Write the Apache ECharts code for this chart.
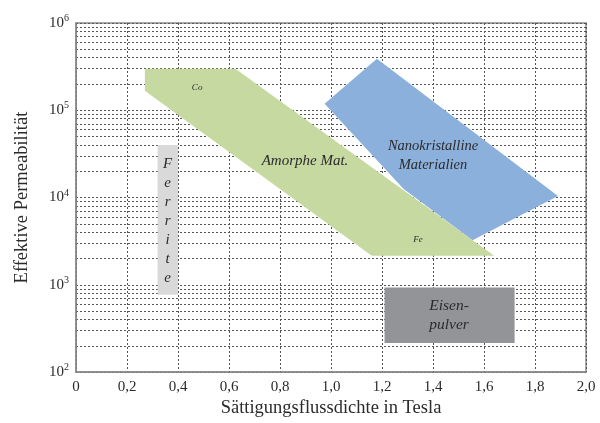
<!DOCTYPE html>
<html>
<head>
<meta charset="utf-8">
<script src="https://cdn.jsdelivr.net/npm/echarts@6/dist/echarts.min.js"></script>
<style>
  html, body { margin: 0; padding: 0; background: #fff; }
  #chart { width: 600px; height: 423px; }
</style>
</head>
<body>
<div id="chart"></div>
<script>
// Material regions in the B_sat / mu_eff plane (vertices, x in T, y = permeability)
const amorphX = [0.27, 0.625, 1.64, 1.16, 0.27];
const amorphY = [3.0e5, 3.0e5, 2.15e3, 2.15e3, 1.67e5];
const nanoX = [1.18, 1.89, 1.555, 1.285, 0.975];
const nanoY = [3.9e5, 1.04e4, 3.25e3, 1.25e4, 1.19e5];
const ferritX = [0.32, 0.40];
const ferritY = [770, 4.0e4];
const eisenX = [1.21, 1.72];
const eisenY = [215, 930];

// x tick labels use a decimal comma
const xMin = 0, xMax = 2, xStep = 0.2;
const yMin = 1e2, yMax = 1e6;

// minor grid lines 2..9 x 10^k inside each decade
const minorLines = [];
for (let k = 2; k < 6; k++) {
  for (let m = 2; m <= 9; m++) minorLines.push({ yAxis: m * Math.pow(10, k) });
}

const serif = 'Liberation Serif';
const textCol = '#2b2b2b';
const gridLine = { color: '#555', type: [2, 2], width: 1 };

function region(name, xs, ys, color, labels) {
  const data = xs.map((x, i) => [x, ys[i]]);
  return {
    name: name,
    type: 'custom',
    silent: true,
    z: 5,
    data: data,
    renderItem: function (params, api) {
      if (params.dataIndex !== 0) return null;
      const pts = xs.map((x, i) => api.coord([x, ys[i]]));
      const children = [{ type: 'polygon', shape: { points: pts }, style: { fill: color } }];
      labels.forEach(function (lb) {
        const p = api.coord(lb.at);
        children.push({
          type: 'text',
          x: p[0], y: p[1],
          style: {
            text: lb.text,
            fill: textCol,
            fontFamily: serif,
            fontStyle: 'italic',
            fontSize: lb.size,
            align: 'center',
            verticalAlign: 'middle',
            lineHeight: lb.lh || Math.round(lb.size * 1.25)
          }
        });
      });
      return { type: 'group', children: children };
    }
  };
}

function rect(xs, ys) {
  return { x: [xs[0], xs[1], xs[1], xs[0]], y: [ys[0], ys[0], ys[1], ys[1]] };
}
const ferritRect = rect(ferritX, ferritY);
const eisenRect = rect(eisenX, eisenY);

const chart = echarts.init(document.getElementById('chart'), null, { renderer: 'canvas' });

chart.setOption({
  animation: false,
  backgroundColor: '#fff',
  grid: { left: 76, top: 23, right: 14, bottom: 45, show: true, borderColor: '#8a8a8a', borderWidth: 1.5, backgroundColor: 'transparent' },
  xAxis: {
    type: 'value', min: xMin, max: xMax, interval: xStep,
    axisLine: { show: true, lineStyle: { color: '#8a8a8a', width: 1.5 } },
    axisTick: { show: false },
    axisLabel: {
      margin: 7, color: textCol, fontFamily: serif, fontSize: 15,
      formatter: function (v) { return v === 0 ? '0' : v.toFixed(1).replace('.', ','); }
    },
    splitLine: { show: true, lineStyle: gridLine },
    name: 'Sättigungsflussdichte in Tesla',
    nameLocation: 'middle', nameGap: 24,
    nameTextStyle: { color: textCol, fontFamily: serif, fontSize: 18.5 }
  },
  yAxis: {
    type: 'log', logBase: 10, min: yMin, max: yMax,
    axisLine: { show: true, lineStyle: { color: '#8a8a8a', width: 1.5 } },
    axisTick: { show: false },
    axisLabel: {
      margin: 7, color: textCol, fontFamily: serif,
      formatter: function (v) { return '{b|10}{s|' + Math.round(Math.log10(v)) + '}'; },
      rich: {
        b: { fontSize: 15, fontFamily: serif, color: textCol },
        s: { fontSize: 10, fontFamily: serif, color: textCol, verticalAlign: 'bottom', padding: [0, 0, 9, 0] }
      }
    },
    splitLine: { show: true, lineStyle: gridLine },
    name: 'Effektive Permeabilität',
    nameLocation: 'middle', nameGap: 44, nameRotate: 90,
    nameTextStyle: { color: textCol, fontFamily: serif, fontSize: 18.5 }
  },
  series: [
    {
      type: 'scatter', data: [], silent: true, z: 0,
      markLine: {
        silent: true, symbol: 'none', animation: false, z: 0,
        label: { show: false },
        lineStyle: gridLine,
        data: minorLines
      }
    },
    region('Ferrite', ferritRect.x, ferritRect.y, '#d9d9d9', [
      { text: 'F\ne\nr\nr\ni\nt\ne', at: [0.359, 5.4e3], size: 15, lh: 19 }
    ]),
    region('Eisenpulver', eisenRect.x, eisenRect.y, '#939497', [
      { text: 'Eisen-\npulver', at: [1.463, 447], size: 15.5, lh: 19 }
    ]),
    region('Nanokristalline Materialien', nanoX, nanoY, '#8cb0dc', [
      { text: 'Nanokristalline\nMaterialien', at: [1.40, 3.05e4], size: 14.5, lh: 19 }
    ]),
    region('Amorphe Mat.', amorphX, amorphY, '#c5d9a0', [
      { text: 'Amorphe Mat.', at: [0.898, 2.64e4], size: 15 },
      { text: 'Co', at: [0.475, 1.84e5], size: 9 },
      { text: 'Fe', at: [1.341, 3.32e3], size: 9 }
    ])
  ]
});
</script>
</body>
</html>
